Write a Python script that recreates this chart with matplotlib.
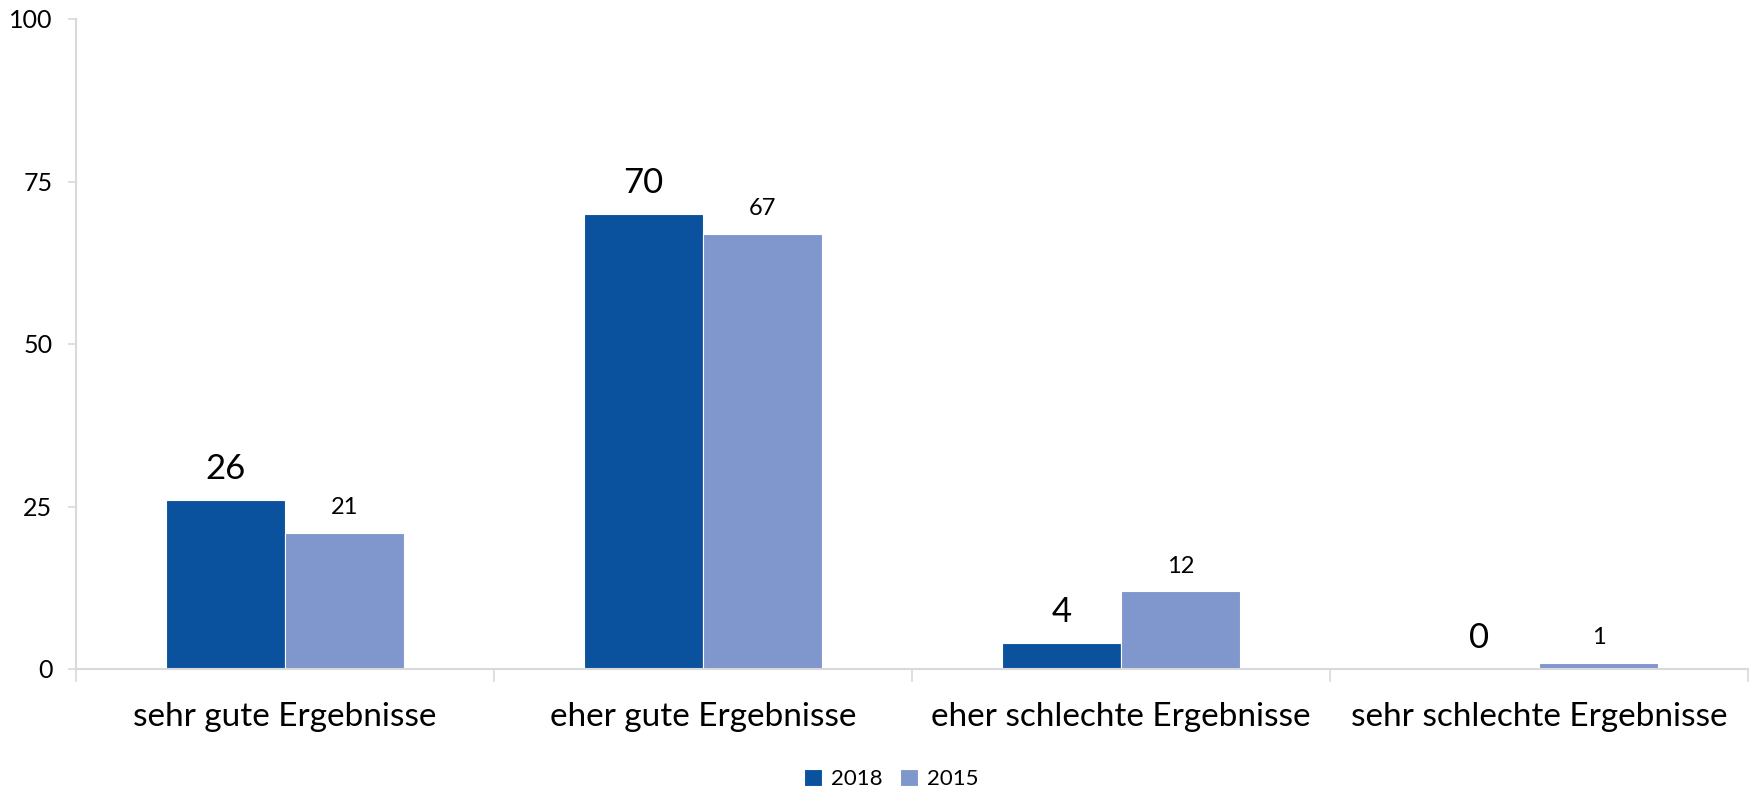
import matplotlib
matplotlib.use("Agg")
import matplotlib.pyplot as plt
import numpy as np

categories = ["sehr gute Ergebnisse", "eher gute Ergebnisse",
              "eher schlechte Ergebnisse", "sehr schlechte Ergebnisse"]
series_names = ["2018", "2015"]
values_2018 = [26, 70, 4, 0]
values_2015 = [21, 67, 12, 1]
y_ticks = [0, 25, 50, 75, 100]

color_2018 = "#0A529E"
color_2015 = "#7F97CD"
axis_grey = "#D9D9D9"

plt.rcParams['font.family'] = ['Lato', 'DejaVu Sans']

fig = plt.figure(figsize=(17.54, 7.91), dpi=100)
ax = fig.add_axes([76/1754, 1-669/791, (1748-76)/1754, (669-19)/791])

x = np.arange(len(categories))
w = 0.285
b1 = ax.bar(x - w/2, values_2018, w, color=color_2018, edgecolor="white",
            linewidth=0.8, label=series_names[0])
b2 = ax.bar(x + w/2, values_2015, w, color=color_2015, edgecolor="white",
            linewidth=0.8, label=series_names[1])

for xi, v in zip(x - w/2, values_2018):
    ax.annotate(str(v), (xi, v), xytext=(0, 15), textcoords="offset points",
                ha="center", va="baseline", fontsize=25, color="black")
for xi, v in zip(x + w/2, values_2015):
    ax.annotate(str(v), (xi, v), xytext=(0, 13), textcoords="offset points",
                ha="center", va="baseline", fontsize=17, color="black")

ax.set_xlim(-0.5, len(categories) - 0.5)
ax.set_ylim(0, 100)
ax.set_yticks(y_ticks)
ax.set_yticklabels([str(t) for t in y_ticks], fontsize=18)
ax.tick_params(axis="y", length=6, width=1.2, color=axis_grey, pad=11)

ax.set_xticks(x)
ax.set_xticklabels(categories, fontsize=24)
ax.tick_params(axis="x", which="major", length=0, pad=24)
ax.set_xticks(np.arange(len(categories) + 1) - 0.5, minor=True)
ax.tick_params(axis="x", which="minor", length=9, width=1.2, color=axis_grey)

for s in ["top", "right"]:
    ax.spines[s].set_visible(False)
for s in ["left", "bottom"]:
    ax.spines[s].set_color(axis_grey)
    ax.spines[s].set_linewidth(1.5)

fig.legend(handles=[b1, b2], labels=series_names, loc="center",
           bbox_to_anchor=(891/1754, 1-779/791), ncol=2, frameon=False,
           fontsize=16, handlelength=0.8, handleheight=0.8, handletextpad=0.4,
           columnspacing=0.8, borderpad=0)

fig.savefig("out.png", dpi=100)
